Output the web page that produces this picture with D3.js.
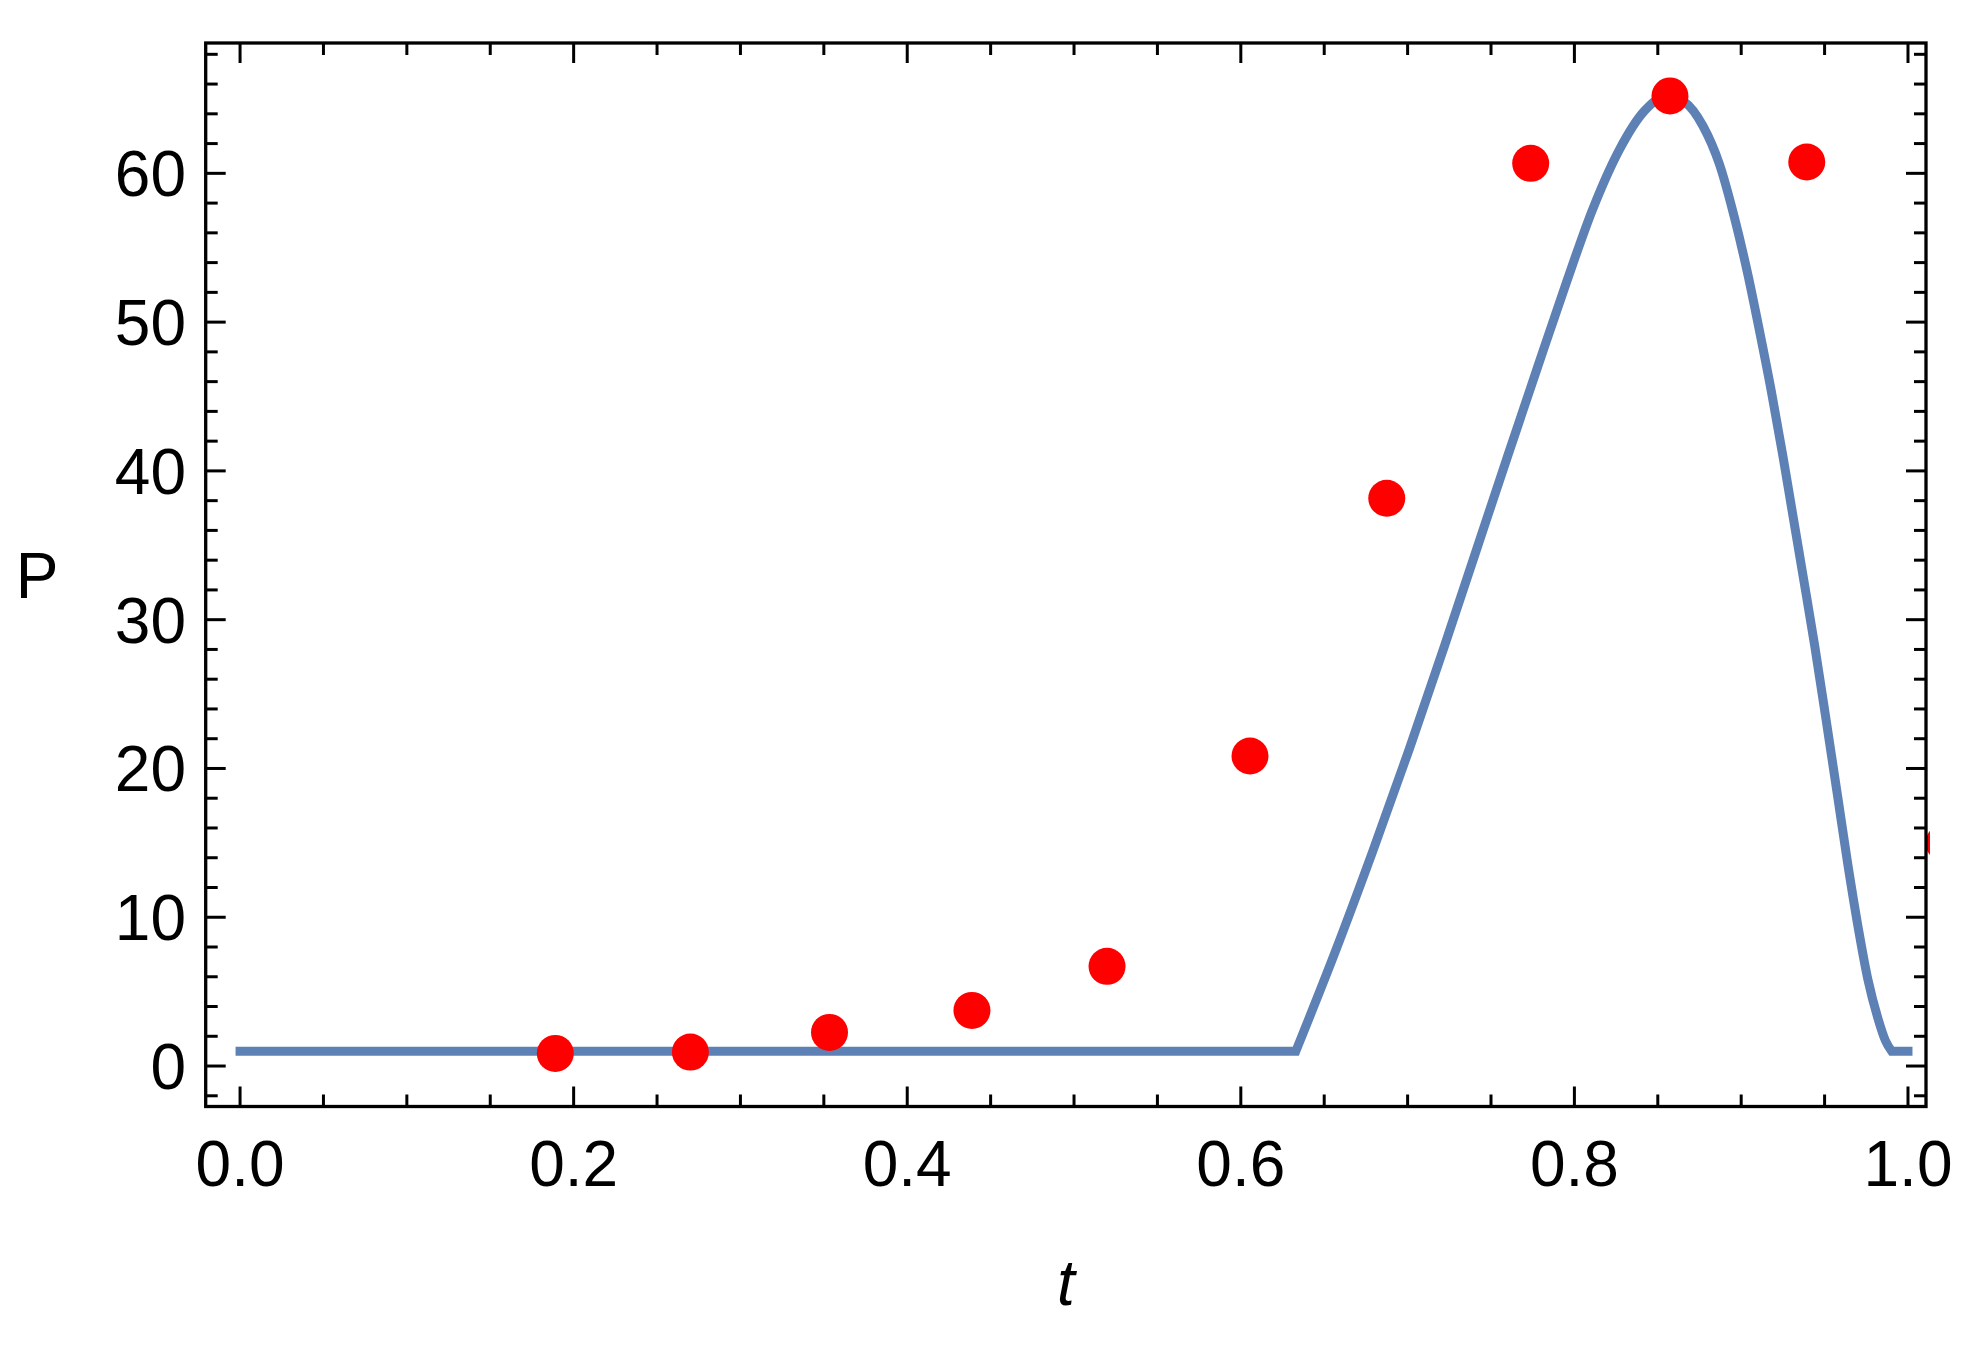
<!DOCTYPE html>
<html>
<head>
<meta charset="utf-8">
<script src="https://cdn.jsdelivr.net/npm/d3@7"></script>
<style>
  html, body { margin: 0; padding: 0; background: #fff; }
  svg { display: block; }
  text { font-family: "Liberation Sans", Arial, Helvetica, sans-serif; fill: #000; }
</style>
</head>
<body>
<svg id="chart" width="1974" height="1345"></svg>
<script>
// ---- Data ----
const pointT = [0.189, 0.270, 0.3534, 0.4388, 0.5198, 0.6055, 0.6875, 0.7738, 0.8573, 0.9393, 1.0216];
const pointP = [0.85, 0.94, 2.26, 3.74, 6.70, 20.84, 38.16, 60.67, 65.2, 60.76, 15.0];

// flat parts of the model curve
const flatLeftT = [0.0, 0.633];
const flatLeftP = [1.0, 1.0];
const flatRightT = [0.9902, 1.0];
const flatRightP = [1.0, 1.0];

// hump of the model curve
const humpT = [0.633, 0.656, 0.679, 0.701, 0.722, 0.741, 0.760, 0.778, 0.795, 0.811, 0.827, 0.842, 0.855,
               0.866, 0.877, 0.887, 0.896, 0.904, 0.911, 0.918, 0.925, 0.931, 0.937, 0.944,
               0.951, 0.958, 0.964, 0.970, 0.976, 0.982, 0.9865, 0.9902];
const humpP = [1.0, 7.5, 14.4, 21.3, 28.2, 34.6, 41.0, 47.0, 52.6, 57.6, 61.6, 64.2, 65.2,
               64.8, 63.2, 60.6, 57.0, 53.2, 49.4, 45.4, 41.0, 37.0, 33.0, 28.3,
               23.2, 18.0, 13.5, 9.4, 5.8, 3.2, 1.7, 1.0];

const xMajor = [0, 0.2, 0.4, 0.6, 0.8, 1.0];
const xMajorLabels = ["0.0", "0.2", "0.4", "0.6", "0.8", "1.0"];
const yMajor = [0, 10, 20, 30, 40, 50, 60];
const yMajorLabels = ["0", "10", "20", "30", "40", "50", "60"];
const xLabel = "t";
const yLabel = "P";

// ---- Layout ----
const L = 205.7, R = 1926, T = 43, B = 1106.5;
const x = d3.scaleLinear().domain([-0.0206, 1.0108]).range([L, R]);
const y = d3.scaleLinear().domain([-2.72, 68.76]).range([B, T]);

const svg = d3.select("#chart");

svg.append("defs").append("clipPath").attr("id", "clipPts")
  .append("rect").attr("x", 0).attr("y", 0).attr("width", 1930).attr("height", 1345);

// ---- Curve ----
const toPts = (ts, ps) => ts.map((t, i) => [t, ps[i]]);
const lin = d3.line().x(d => x(d[0])).y(d => y(d[1]));
const smooth = d3.line().x(d => x(d[0])).y(d => y(d[1])).curve(d3.curveMonotoneX);

const pLeft = lin(toPts(flatLeftT, flatLeftP));
const pHump = smooth(toPts(humpT, humpP)).replace(/^M/, "L");
const pRight = lin(toPts(flatRightT, flatRightP)).replace(/^M/, "L");

svg.append("path")
  .attr("d", pLeft + pHump + pRight)
  .attr("fill", "none")
  .attr("stroke", "#5E81B5")
  .attr("stroke-width", 9)
  .attr("stroke-linecap", "square")
  .attr("stroke-linejoin", "miter");

// ---- Points ----
svg.append("g").attr("clip-path", "url(#clipPts)")
  .selectAll("circle")
  .data(toPts(pointT, pointP))
  .join("circle")
  .attr("cx", d => x(d[0]))
  .attr("cy", d => y(d[1]))
  .attr("r", 18.5)
  .attr("fill", "#FF0000");

// ---- Frame & ticks ----
const majLen = 20, minLen = 12;
const xMinor = d3.range(1, 20).map(i => i * 0.05).filter(v => !xMajor.some(m => Math.abs(m - v) < 1e-9));
const yMinor = d3.range(-2, 69, 2).filter(v => v % 10 !== 0);

const axisG = svg.append("g").attr("stroke", "#000").attr("fill", "none");

function tickLines(vals, len, width) {
  vals.forEach(v => {
    const xv = x(v);
    axisG.append("line").attr("x1", xv).attr("x2", xv).attr("y1", B).attr("y2", B - len).attr("stroke-width", width);
    axisG.append("line").attr("x1", xv).attr("x2", xv).attr("y1", T).attr("y2", T + len).attr("stroke-width", width);
  });
}
function tickLinesY(vals, len, width) {
  vals.forEach(v => {
    const yv = y(v);
    axisG.append("line").attr("y1", yv).attr("y2", yv).attr("x1", L).attr("x2", L + len).attr("stroke-width", width);
    axisG.append("line").attr("y1", yv).attr("y2", yv).attr("x1", R).attr("x2", R - len).attr("stroke-width", width);
  });
}
tickLines(xMajor, majLen, 3);
tickLines(xMinor, minLen, 3);
tickLinesY(yMajor, majLen, 3);
tickLinesY(yMinor, minLen, 3);

axisG.append("rect")
  .attr("x", L).attr("y", T).attr("width", R - L).attr("height", B - T)
  .attr("stroke-width", 3.3);

// ---- Tick labels ----
const fs = 64;
svg.append("g").selectAll("text")
  .data(xMajor)
  .join("text")
  .attr("x", d => x(d))
  .attr("y", 1186)
  .attr("text-anchor", "middle")
  .attr("font-size", fs)
  .text((d, i) => xMajorLabels[i]);

svg.append("g").selectAll("text")
  .data(yMajor)
  .join("text")
  .attr("x", 186)
  .attr("y", d => y(d))
  .attr("dy", "0.358em")
  .attr("text-anchor", "end")
  .attr("font-size", fs)
  .text((d, i) => yMajorLabels[i]);

// ---- Axis labels ----
svg.append("text")
  .attr("x", (L + R) / 2)
  .attr("y", 1305)
  .attr("text-anchor", "middle")
  .attr("font-size", fs)
  .attr("font-style", "italic")
  .text(xLabel);

svg.append("text")
  .attr("x", 37)
  .attr("y", 598)
  .attr("text-anchor", "middle")
  .attr("font-size", fs)
  .text(yLabel);
</script>
</body>
</html>
